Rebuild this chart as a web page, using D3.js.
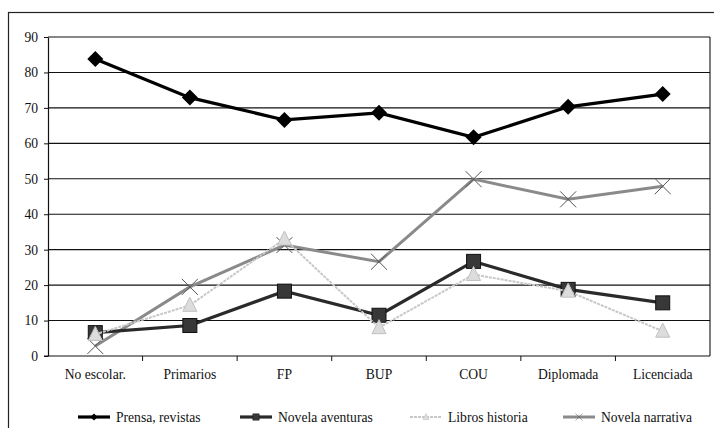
<!DOCTYPE html>
<meta charset="utf-8">
<script src="https://d3js.org/d3.v7.min.js"></script>
<style>
  body { margin: 0; background: #fff; }
</style>
<div id="chart"></div>
<script>

// data
const niveles = ["No escolar.", "Primarios", "FP", "BUP", "COU", "Diplomada", "Licenciada"];
const prensa = [83.8, 72.9, 66.6, 68.6, 61.7, 70.3, 73.9];
const aventuras = [6.6, 8.6, 18.3, 11.5, 26.7, 18.8, 15.0];
const historia = [6.1, 14.3, 33.0, 8.0, 23.0, 18.3, 7.0];
const narrativa = [2.8, 19.5, 31.3, 26.6, 49.9, 44.2, 47.9];
const yTicks = [0, 10, 20, 30, 40, 50, 60, 70, 80, 90];

const FONT = "Liberation Serif";
const FS = 13.6;

const series = [
  {name: "Prensa, revistas", values: prensa, color: "#000", width: 3.2, marker: "diamond", dash: null},
  {name: "Novela aventuras", values: aventuras, color: "#2a2a2a", width: 3.2, marker: "square", dash: null},
  {name: "Libros historia", values: historia, color: "#c8c8c8", width: 2, marker: "triangle", dash: "3,1"},
  {name: "Novela narrativa", values: narrativa, color: "#8a8a8a", width: 3, marker: "cross", dash: null}
];

const W = 714, H = 428;
const margin = {top: 37, right: 4, bottom: 72, left: 48};
const width = W - margin.left - margin.right,
      height = H - margin.top - margin.bottom;

const svg = d3.select("#chart").append("svg")
  .attr("width", W).attr("height", H)
  .attr("font-family", FONT);

// outer frame
svg.append("rect")
  .attr("x", 8.5).attr("y", 12.5)
  .attr("width", W + 10).attr("height", H + 10)
  .attr("fill", "none").attr("stroke", "#222").attr("stroke-width", 1.2);

const g = svg.append("g").attr("transform", `translate(${margin.left},${margin.top})`);

const x = d3.scaleBand().domain(niveles).range([0, width]);
const y = d3.scaleLinear().domain([0, 90]).range([height, 0]);

// gridlines
g.selectAll(".grid").data(yTicks.slice(1)).join("line")
  .attr("x1", 0).attr("x2", width)
  .attr("y1", d => y(d)).attr("y2", d => y(d))
  .attr("stroke", "#111").attr("stroke-width", 1.1);

// plot area right edge
g.append("line").attr("x1", width).attr("x2", width).attr("y1", 0).attr("y2", height)
  .attr("stroke", "#111").attr("stroke-width", 1.1);

// y axis
const yAxis = g.append("g")
  .call(d3.axisLeft(y).tickValues(yTicks).tickSize(4).tickSizeOuter(0))
  .attr("font-family", FONT);
yAxis.select(".domain").attr("stroke", "#111").attr("stroke-width", 1.2);
yAxis.selectAll(".tick line").attr("stroke", "#111");
yAxis.selectAll("text").attr("font-size", FS).attr("fill", "#111")
  .attr("font-family", FONT).attr("x", -10);

// x axis with ticks between categories
const xAxis = g.append("g").attr("transform", `translate(0,${height})`);
xAxis.append("line").attr("x1", -4).attr("x2", width).attr("stroke", "#111").attr("stroke-width", 1.2);
xAxis.selectAll(".xt").data(niveles.slice(1)).join("line")
  .attr("x1", d => x(d)).attr("x2", d => x(d)).attr("y1", 0).attr("y2", 5)
  .attr("stroke", "#111");
xAxis.selectAll(".xl").data(niveles).join("text")
  .attr("x", d => x(d) + x.bandwidth() / 2).attr("y", 23)
  .attr("text-anchor", "middle").attr("font-size", FS).attr("fill", "#111")
  .attr("font-family", FONT)
  .text(d => d);

const cx = i => x(niveles[i]) + x.bandwidth() / 2;

function drawMarker(sel, s, px, py) {
  if (s.marker === "diamond") {
    sel.append("path").attr("d", `M${px},${py - 8}L${px + 8},${py}L${px},${py + 8}L${px - 8},${py}Z`)
      .attr("fill", "#000");
  } else if (s.marker === "square") {
    sel.append("rect").attr("x", px - 7).attr("y", py - 7).attr("width", 14).attr("height", 14)
      .attr("fill", "#383838").attr("stroke", "#111").attr("stroke-width", 1);
  } else if (s.marker === "triangle") {
    sel.append("path").attr("d", `M${px},${py - 8}L${px + 7},${py + 6}L${px - 7},${py + 6}Z`)
      .attr("fill", "#dcdcdc").attr("stroke", "#c0c0c0").attr("stroke-width", 1);
  } else {
    sel.append("path").attr("d", `M${px - 8},${py - 8}L${px + 8},${py + 8}M${px - 8},${py + 8}L${px + 8},${py - 8}`)
      .attr("stroke", "#555").attr("stroke-width", 1).attr("fill", "none");
  }
}

const line = d3.line().x((d, i) => cx(i)).y(d => y(d));

// draw series (back to front like the original)
[series[3], series[1], series[2], series[0]].forEach(s => {
  const sg = g.append("g");
  sg.append("path").datum(s.values)
    .attr("d", line).attr("fill", "none")
    .attr("stroke", s.color).attr("stroke-width", s.width)
    .attr("stroke-dasharray", s.dash);
  s.values.forEach((v, i) => drawMarker(sg, s, cx(i), y(v)));
});

// legend
const legX = [78, 240, 410, 563];
const legY = 417;
series.forEach((s, i) => {
  const lg = svg.append("g");
  lg.append("line").attr("x1", legX[i]).attr("x2", legX[i] + 32)
    .attr("y1", legY).attr("y2", legY)
    .attr("stroke", s.color).attr("stroke-width", s.width).attr("stroke-dasharray", s.dash);
  const m = lg.append("g").attr("transform", `translate(${legX[i] + 16},${legY}) scale(0.45) translate(${-(legX[i] + 16)},${-legY})`);
  drawMarker(m, s, legX[i] + 16, legY);
  lg.append("text").attr("x", legX[i] + 38).attr("y", legY + 4.5)
    .attr("font-size", FS).attr("fill", "#111")
    .attr("font-family", FONT).text(s.name);
});
</script>
